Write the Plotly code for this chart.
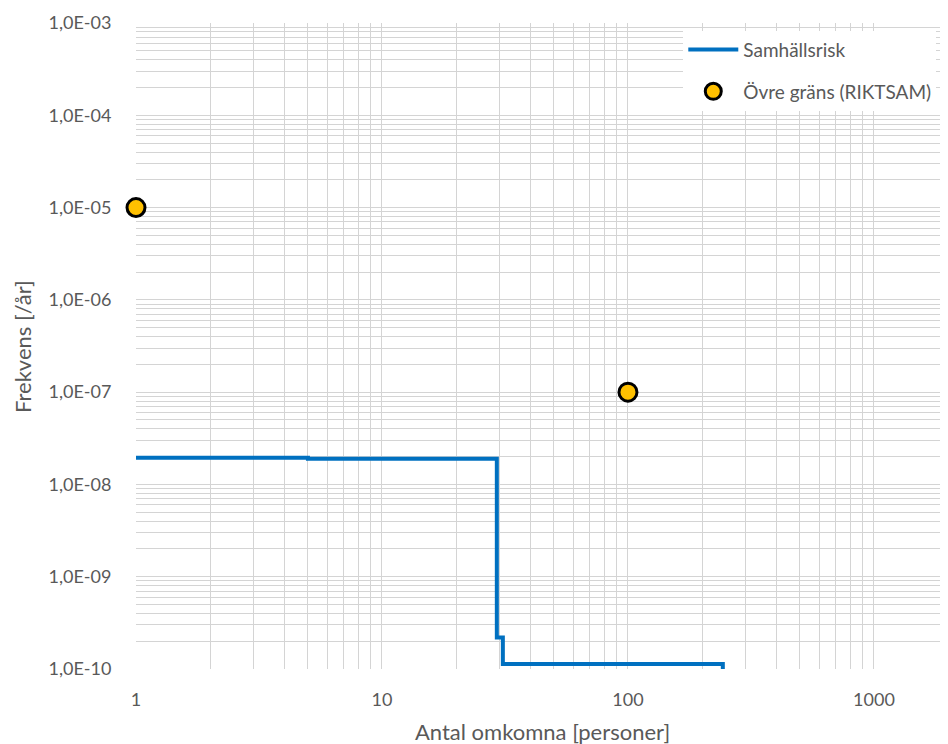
import plotly.graph_objects as go

# Data
risk_x = [1, 5, 29.3, 31, 243]
risk_y = [1.95e-8, 1.9e-8, 2.2e-10, 1.13e-10, 1e-10]
limit_x = [1, 100]
limit_y = [1e-5, 1e-7]
y_tickvals = [1e-10, 1e-9, 1e-8, 1e-7, 1e-6, 1e-5, 1e-4, 1e-3]
y_ticktext = ["1,0E-10", "1,0E-09", "1,0E-08", "1,0E-07", "1,0E-06", "1,0E-05", "1,0E-04", "1,0E-03"]
x_tickvals = [1, 10, 100, 1000]
x_ticktext = ["1", "10", "100", "1000"]

FONT = "Lato, 'Open Sans', sans-serif"
GRID = "#d4d4d4"
TXT = "#595959"

fig = go.Figure()
fig.add_trace(go.Scatter(
    x=risk_x, y=risk_y, mode="lines", name="Samhällsrisk",
    line=dict(color="#0070C0", width=4, shape="hv"),
    legendgroup="a",
))
fig.add_trace(go.Scatter(
    x=limit_x, y=limit_y, mode="markers", name="Övre gräns (RIKTSAM)",
    marker=dict(color="#FFC000", size=18, line=dict(color="black", width=3)),
    cliponaxis=False, legendgroup="b",
))

fig.update_layout(
    width=940, height=736,
    margin=dict(l=128, r=0, t=15, b=75),
    paper_bgcolor="white", plot_bgcolor="white",
    font=dict(family=FONT, size=18, color=TXT),
    showlegend=True,
    legend=dict(x=0.674, y=0.988, xanchor="left", yanchor="top",
                bgcolor="white", font=dict(size=19, color=TXT),
                tracegroupgap=14, itemwidth=50),
    annotations=[
        dict(text="Antal omkomna [personer]", xref="paper", yref="paper",
             x=0.5, y=-0.0975, xanchor="center", yanchor="middle",
             showarrow=False, font=dict(size=22, color=TXT)),
        dict(text="Frekvens [/år]", xref="paper", yref="paper",
             x=-0.1404, y=0.5, xanchor="center", yanchor="middle",
             textangle=-90, showarrow=False, font=dict(size=22, color=TXT)),
    ],
)
fig.update_xaxes(
    type="log", range=[0, 3.30103], automargin=False,
    tickvals=x_tickvals, ticktext=x_ticktext,
    showgrid=True, gridcolor=GRID, gridwidth=1.3,
    minor=dict(dtick="D1", showgrid=True, gridcolor=GRID, gridwidth=1.3),
    zeroline=False, showline=False, ticks="outside", ticklen=14, tickcolor="rgba(0,0,0,0)",
    tickfont=dict(size=18, color=TXT),
)
fig.update_yaxes(
    type="log", range=[-10, -3], automargin=False,
    tickvals=y_tickvals, ticktext=y_ticktext,
    showgrid=True, gridcolor=GRID, gridwidth=1.3,
    minor=dict(dtick="D1", showgrid=True, gridcolor=GRID, gridwidth=1.3),
    zeroline=False, showline=False, ticks="outside", ticklen=20, tickcolor="rgba(0,0,0,0)",
    tickfont=dict(size=18, color=TXT),
)

fig.write_html("out.html")
